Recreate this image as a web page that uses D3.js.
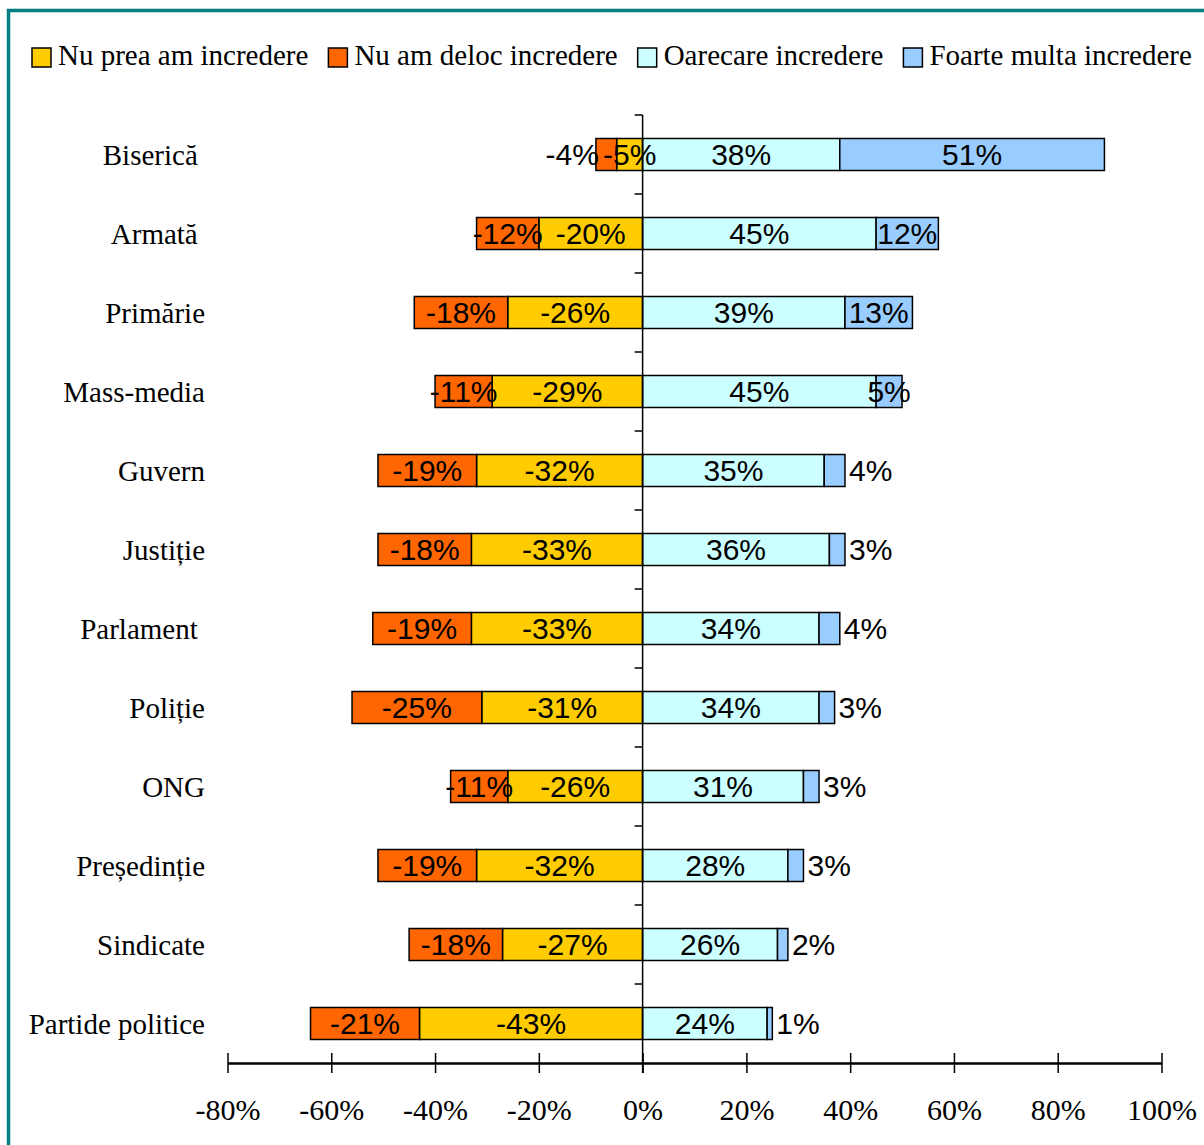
<!DOCTYPE html>
<html>
<head>
<meta charset="utf-8">
<script src="https://cdn.jsdelivr.net/npm/d3@7/dist/d3.min.js"></script>
<style>
  html, body { margin: 0; padding: 0; background: #fff; }
  svg { display: block; }
  text { white-space: pre; }
</style>
</head>
<body>
<svg id="chart" width="1204" height="1145"></svg>
<script>
// ---- data ----
const categories = ["Biserică ", "Armată ", "Primărie", "Mass-media", "Guvern", "Justiție",
  "Parlament ", "Poliție", "ONG", "Președinție", "Sindicate", "Partide politice"];
const nuPreaAm   = [-5, -20, -26, -29, -32, -33, -33, -31, -26, -32, -27, -43];
const nuAmDeloc  = [-4, -12, -18, -11, -19, -18, -19, -25, -11, -19, -18, -21];
const oarecare   = [38, 45, 39, 45, 35, 36, 34, 34, 31, 28, 26, 24];
const foarteMulta = [51, 12, 13, 5, 4, 3, 4, 3, 3, 3, 2, 1];
const seriesNames = ["Nu prea am incredere", "Nu am deloc incredere", "Oarecare incredere", "Foarte multa incredere"];
const seriesColors = ["#FFCC00", "#FF6600", "#CCFFFF", "#99CCFF"];
const tickValues = [-80, -60, -40, -20, 0, 20, 40, 60, 80, 100];
const tickLabels = ["-80%", "-60%", "-40%", "-20%", "0%", "20%", "40%", "60%", "80%", "100%"];

// ---- layout ----
const svg = d3.select("#chart");
const W = 1204, H = 1145;
const plotTop = 115, plotBottom = 1063;
const x = d3.scaleLinear().domain([-80, 100]).range([227.5, 1161.5]);
const y = d3.scaleBand().domain(categories).range([plotTop, plotBottom])
  .paddingInner(0.595).paddingOuter(0.2975);

// frame
svg.append("rect").attr("x", 8.5).attr("y", 10.5).attr("width", 1400).attr("height", 1400)
  .attr("fill", "none").attr("stroke", "#008080").attr("stroke-width", 3.5);

// build segments
const segs = [];
categories.forEach((c, i) => {
  segs.push({cat: c, s: 0, x0: nuPreaAm[i], x1: 0, v: nuPreaAm[i], outer: false});
  segs.push({cat: c, s: 1, x0: nuPreaAm[i] + nuAmDeloc[i], x1: nuPreaAm[i], v: nuAmDeloc[i], outer: true});
  segs.push({cat: c, s: 2, x0: 0, x1: oarecare[i], v: oarecare[i], outer: false});
  segs.push({cat: c, s: 3, x0: oarecare[i], x1: oarecare[i] + foarteMulta[i], v: foarteMulta[i], outer: true});
});

svg.append("g").selectAll("rect").data(segs).join("rect")
  .attr("x", d => x(d.x0))
  .attr("y", d => y(d.cat))
  .attr("width", d => x(d.x1) - x(d.x0))
  .attr("height", y.bandwidth())
  .attr("fill", d => seriesColors[d.s])
  .attr("stroke", "#000").attr("stroke-width", 1.5);

// vertical axis
const vAxis = svg.append("g");
vAxis.append("line").attr("x1", x(0)).attr("x2", x(0)).attr("y1", plotTop).attr("y2", plotBottom + 10)
  .attr("stroke", "#000").attr("stroke-width", 1.5);
d3.range(categories.length).forEach(i => {
  const yy = plotTop + i * y.step();
  vAxis.append("line").attr("x1", x(0) - 8).attr("x2", x(0)).attr("y1", yy).attr("y2", yy)
    .attr("stroke", "#000").attr("stroke-width", 1.5);
});

// bottom axis
const xAxis = d3.axisBottom(x).tickValues(tickValues).tickSize(0).tickFormat((d, i) => tickLabels[i]);
const gx = svg.append("g").attr("transform", `translate(0,${plotBottom})`).call(xAxis);
gx.select(".domain").attr("stroke", "#000").attr("stroke-width", 2.5);
gx.selectAll(".tick line").attr("y1", -10).attr("y2", 10).attr("stroke", "#000").attr("stroke-width", 1.5);
gx.selectAll(".tick text").attr("y", 57).attr("dy", 0)
  .attr("font-family", "'Liberation Serif', 'Times New Roman', serif").attr("font-size", 30).attr("fill", "#000");

// category labels
svg.append("g").selectAll("text").data(categories).join("text")
  .attr("x", 205).attr("y", d => y(d) + y.bandwidth() / 2 + 10)
  .attr("text-anchor", "end")
  .attr("font-family", "'Liberation Serif', 'Times New Roman', serif").attr("font-size", 29)
  .attr("fill", "#000")
  .text(d => d);

// data labels
svg.append("g").selectAll("text").data(segs).join("text")
  .each(function(d) {
    const t = d3.select(this);
    const small = d.outer && Math.abs(d.v) <= 4;
    let xx, anchor;
    if (small && d.v > 0) { xx = x(d.x1) + 4; anchor = "start"; }
    else if (small && d.v < 0) { xx = x(d.x0) + 3; anchor = "end"; }
    else { xx = (x(d.x0) + x(d.x1)) / 2; anchor = "middle"; }
    t.attr("x", xx).attr("text-anchor", anchor);
  })
  .attr("y", d => y(d.cat) + y.bandwidth() / 2 + 10.5)
  .attr("font-family", "'Liberation Sans', Arial, sans-serif").attr("font-size", 30)
  .attr("fill", "#000")
  .text(d => d.v + "%");

// legend
const legend = svg.append("g");
let lx = 32;
seriesNames.forEach((name, i) => {
  legend.append("rect").attr("x", lx).attr("y", 48).attr("width", 19).attr("height", 19)
    .attr("fill", seriesColors[i]).attr("stroke", "#000").attr("stroke-width", 1.5);
  const t = legend.append("text").attr("x", lx + 26).attr("y", 65)
    .attr("font-family", "'Liberation Serif', 'Times New Roman', serif").attr("font-size", 29)
    .attr("fill", "#000").text(name);
  lx += 26 + t.node().getComputedTextLength() + 20;
});
</script>
</body>
</html>
